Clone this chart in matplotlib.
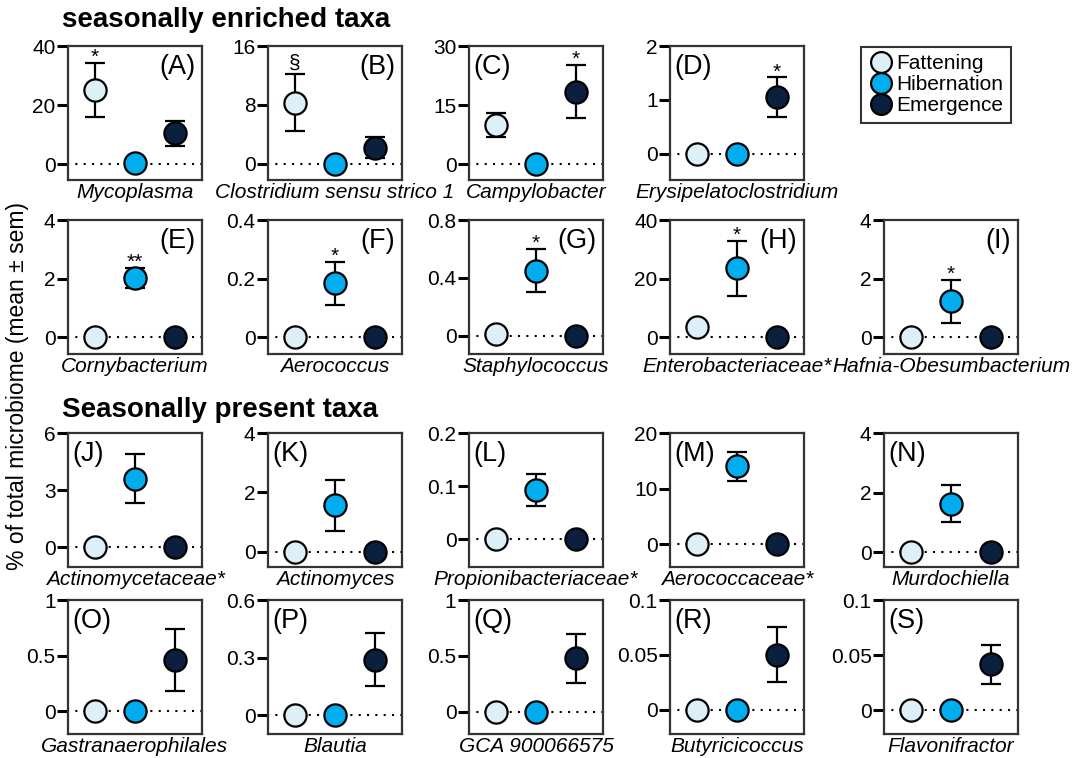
import matplotlib
matplotlib.use("Agg")
import numpy as np
from matplotlib import pyplot as plt
from matplotlib.lines import Line2D

plt.rcParams["font.family"] = ["Liberation Sans", "DejaVu Sans"]

# panel data (mean, sem) per season
letters = list("ABCDEFGHIJKLMNOPQRS")
taxa = ["Mycoplasma", "Clostridium sensu strico 1", "Campylobacter", "Erysipelatoclostridium",
        "Cornybacterium", "Aerococcus", "Staphylococcus", "Enterobacteriaceae*", "Hafnia-Obesumbacterium",
        "Actinomycetaceae*", "Actinomyces", "Propionibacteriaceae*", "Aerococcaceae*", "Murdochiella",
        "Gastranaerophilales", "Blautia", "GCA 900066575", "Butyricicoccus", "Flavonifractor"]
fat_mean = [25.1, 8.3, 10.0, 0, 0, 0, 0.01, 3.6, 0, 0, 0, 0, 0, 0, 0, 0, 0, 0, 0]
fat_sem = [9.2, 3.85, 3.1, 0, 0, 0, 0, 0, 0, 0, 0, 0, 0, 0, 0, 0, 0, 0, 0]
hib_mean = [0.4, 0, 0, 0, 2.02, 0.184, 0.45, 23.5, 1.23, 3.6, 1.57, 0.092, 14.0, 1.62, 0, 0, 0, 0, 0]
hib_sem = [0, 0, 0, 0, 0.34, 0.073, 0.15, 9.35, 0.73, 1.28, 0.86, 0.03, 2.55, 0.62, 0, 0, 0, 0, 0]
em_mean = [10.4, 2.2, 18.4, 1.05, 0, 0, 0, 0, 0, 0, 0, 0, 0, 0, 0.46, 0.29, 0.48, 0.050, 0.0415]
em_sem = [4.3, 1.4, 6.8, 0.37, 0, 0, 0, 0, 0, 0, 0, 0, 0, 0, 0.28, 0.14, 0.22, 0.025, 0.0175]
y_top = [40, 16, 30, 2, 4, 0.4, 0.8, 40, 4, 6, 4, 0.2, 20, 4, 1, 0.6, 1, 0.1, 0.1]
y_bottom = [-5.4, -2.2, -4.05, -0.49, -0.57, -0.057, -0.126, -5.7, -0.57, -1.03, -0.51,
            -0.0525, -4.06, -0.5, -0.205, -0.098, -0.2, -0.0223, -0.0216]
sig_mark = ["*", "§", "*", "*", "**", "*", "*", "*", "*"] + [""] * 10
sig_group = [0, 0, 2, 2, 1, 1, 1, 1, 1] + [None] * 10
letter_right = [True, True, False, False, True, True, True, True, True] + [False] * 10

seasons = ["Fattening", "Hibernation", "Emergence"]
colors = ["#DDF0F7", "#00AEEF", "#0B1F3F"]

W, H = 1073, 758
col_left = [68, 268, 469, 670, 884]
row_top = [46, 220, 433, 600]
size = 134
slots = [(0, c) for c in range(4)] + [(1, c) for c in range(5)] + \
        [(2, c) for c in range(5)] + [(3, c) for c in range(5)]

fig = plt.figure(figsize=(W / 100, H / 100), dpi=100)

for i, (r, c) in enumerate(slots):
    ax = fig.add_axes([col_left[c] / W, 1 - (row_top[r] + size) / H, size / W, size / H])
    means = [fat_mean[i], hib_mean[i], em_mean[i]]
    sems = [fat_sem[i], hib_sem[i], em_sem[i]]
    ax.plot([-0.7, 2.7], [0, 0], color="black", lw=1.5, ls=(0, (1, 3)), zorder=1)
    for k in range(3):
        if sems[k] > 0:
            ax.errorbar(k, means[k], yerr=sems[k], fmt="none", ecolor="black",
                        elinewidth=1.6, capsize=7, capthick=1.6, zorder=2)
        ax.plot(k, means[k], "o", ms=16, mfc=colors[k], mec="black", mew=1.6, zorder=3)
    if sig_mark[i]:
        g = sig_group[i]
        dy = 1 if sig_mark[i] == "§" else -3
        ax.annotate(sig_mark[i], (g, means[g] + sems[g]), xytext=(0, dy),
                    textcoords="offset points", ha="center", va="bottom", fontsize=15)
    ax.set_xlim(-0.67, 2.67)
    ax.set_ylim(y_bottom[i], y_top[i])
    ax.set_yticks([0, y_top[i] / 2, y_top[i]])
    ax.set_yticklabels(["{:g}".format(v) for v in [0, y_top[i] / 2, y_top[i]]])
    ax.set_xticks([])
    ax.tick_params(axis="y", length=8, width=2.2, pad=1, labelsize=15, direction="out")
    for s in ax.spines.values():
        s.set_linewidth(1.6)
        s.set_color("#333333")
    ax.set_xlabel(taxa[i], style="italic", fontsize=15, labelpad=2)
    if letter_right[i]:
        ax.text(0.95, 0.94, f"({letters[i]})", transform=ax.transAxes, ha="right", va="top", fontsize=19.5)
    else:
        ax.text(0.03, 0.94, f"({letters[i]})", transform=ax.transAxes, ha="left", va="top", fontsize=19.5)

fig.text(62 / W, 1 - 20 / H, "seasonally enriched taxa", fontsize=20, fontweight="bold", va="center")
fig.text(62 / W, 1 - 410 / H, "Seasonally present taxa", fontsize=20, fontweight="bold", va="center")
fig.text(18 / W, 1 - 386 / H, "% of total microbiome (mean ± sem)", rotation=90,
         fontsize=16.5, ha="center", va="center")

handles = [Line2D([], [], ls="none", marker="o", ms=15, mfc=col, mec="black", mew=1.6)
           for col in colors]
leg = fig.legend(handles, seasons, loc="upper left", bbox_to_anchor=(861 / W, 1 - 47 / H),
                 fontsize=15, frameon=True, fancybox=False, handletextpad=0.15,
                 labelspacing=0.1, borderpad=0.35, handlelength=1.2, borderaxespad=0)
leg.get_frame().set_edgecolor("black")
leg.get_frame().set_linewidth(1.5)

fig.savefig("out.png", dpi=100)
